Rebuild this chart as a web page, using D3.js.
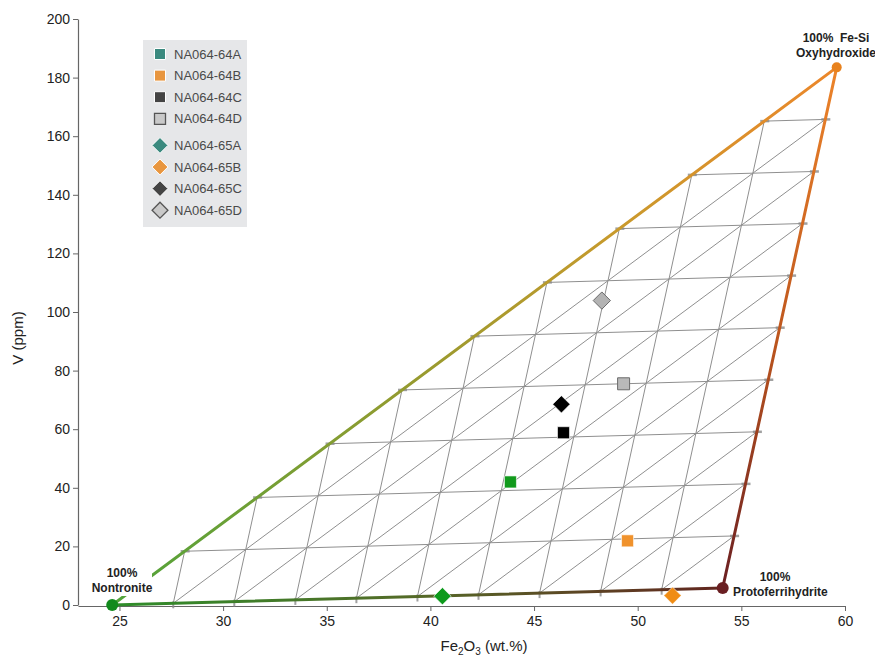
<!DOCTYPE html>
<html>
<head>
<meta charset="utf-8">
<script src="https://cdn.jsdelivr.net/npm/d3@7"></script>
<style>
  body { margin: 0; background: #fff; }
  svg { font-family: "Liberation Sans", Arial, sans-serif; }
</style>
</head>
<body>
<script>
  const w = 875;
  const h = 657;

  // axes
  const xTicks = [25, 30, 35, 40, 45, 50, 55, 60];
  const yTicks = [0, 20, 40, 60, 80, 100, 120, 140, 160, 180, 200];

  // end members: Nontronite, Protoferrihydrite, Fe-Si Oxyhydroxide
  const endNames = ['Nontronite', 'Protoferrihydrite', 'Fe-Si Oxyhydroxide'];
  const endFe = [24.65, 54.1, 59.6];
  const endV = [0, 5.8, 183.5];
  const endColors = ['#118a1c', '#6a1f22', '#e8821e'];

  // samples
  const sampleNames = ['NA064-64A', 'NA064-64B', 'NA064-64C', 'NA064-64D',
    'NA064-65A', 'NA064-65B', 'NA064-65C', 'NA064-65D'];
  const sampleFe = [43.86, 49.51, 46.42, 49.32, 40.58, 51.68, 46.32, 48.27];
  const sampleV = [42.0, 21.9, 58.8, 75.5, 3.0, 3.2, 68.5, 103.9];
  const sampleShape = ['square', 'square', 'square', 'square',
    'diamond', 'diamond', 'diamond', 'diamond'];
  const plotFill = ['#119a1c', '#f0922c', '#000000', '#b9b9b9',
    '#0d9a1c', '#f08c14', '#000000', '#b3b3b3'];
  const legendFill = ['#3b8a7f', '#e8963f', '#444444', '#c9c9c9',
    '#3b8a7f', '#e8963f', '#444444', '#c9c9c9'];

  const gridSteps = d3.range(1, 10).map(i => i / 10);

  const xScale = d3.scaleLinear().domain([23, 60]).range([78, 845]);
  const yScale = d3.scaleLinear().domain([0, 200]).range([605, 19]);

  const svg = d3.select('body').append('svg')
    .attr('width', w)
    .attr('height', h);

  const defs = svg.append('defs');

  const px = i => [xScale(endFe[i]), yScale(endV[i])];
  const mix = (a, b, t) => [a[0] + (b[0] - a[0]) * t, a[1] + (b[1] - a[1]) * t];
  const N = [endFe[0], endV[0]], P = [endFe[1], endV[1]], F = [endFe[2], endV[2]];

  // edge gradients
  function grad(id, i, j, stops) {
    const a = px(i), b = px(j);
    const g = defs.append('linearGradient')
      .attr('id', id)
      .attr('gradientUnits', 'userSpaceOnUse')
      .attr('x1', a[0]).attr('y1', a[1])
      .attr('x2', b[0]).attr('y2', b[1]);
    stops.forEach(s => g.append('stop').attr('offset', s[0]).attr('stop-color', s[1]));
  }
  grad('gNF', 0, 2, [[0, '#4fa33a'], [0.45, '#9c9a2e'], [0.7, '#c99a2c'], [1, '#ec862a']]);
  grad('gFP', 2, 1, [[0, '#ec842a'], [0.5, '#c0581e'], [1, '#6a1f22']]);
  grad('gNP', 0, 1, [[0, '#2e8d2a'], [0.5, '#556a28'], [1, '#62251f']]);

  // axes
  const xAxis = d3.axisBottom(xScale).tickValues(xTicks).tickSize(5).tickSizeOuter(0).tickPadding(5);
  const yAxis = d3.axisLeft(yScale).tickValues(yTicks).tickSize(5).tickSizeOuter(0).tickPadding(3);

  svg.append('g')
    .attr('class', 'x-axis')
    .attr('transform', `translate(0, ${yScale(0) + 1})`)
    .call(xAxis);

  svg.append('g')
    .attr('class', 'y-axis')
    .attr('transform', `translate(${xScale(23)}, 0)`)
    .call(yAxis);

  svg.selectAll('.domain').attr('stroke', '#666').attr('stroke-width', 1.2);
  svg.selectAll('.tick line').attr('stroke', '#666');
  svg.selectAll('.tick text').attr('font-size', 14).attr('fill', '#222')
    .attr('font-family', '"Liberation Sans", Arial, sans-serif');

  // axis titles
  const xt = svg.append('text')
    .attr('x', 484)
    .attr('y', 651)
    .attr('text-anchor', 'middle')
    .attr('font-size', 15)
    .attr('fill', '#222');
  xt.append('tspan').text('Fe');
  xt.append('tspan').text('2').attr('font-size', 10).attr('dy', 4);
  xt.append('tspan').text('O').attr('dy', -4);
  xt.append('tspan').text('3').attr('font-size', 10).attr('dy', 4);
  xt.append('tspan').text(' (wt.%)').attr('dy', -4);

  svg.append('text')
    .attr('text-anchor', 'middle')
    .attr('transform', `translate(23, 338) rotate(-90)`)
    .attr('font-size', 15)
    .attr('fill', '#222')
    .text('V (ppm)');

  // ternary grid
  const gridLines = [];
  gridSteps.forEach(f => {
    // constant Fe-Si fraction
    gridLines.push([mix(N, F, f), mix(P, F, f)]);
    // constant nontronite fraction
    gridLines.push([mix(P, N, f), mix(F, N, f)]);
    // constant protoferrihydrite fraction
    gridLines.push([mix(N, P, f), mix(F, P, f)]);
  });

  svg.append('g')
    .selectAll('line')
    .data(gridLines)
    .enter()
    .append('line')
    .attr('x1', d => xScale(d[0][0]))
    .attr('y1', d => yScale(d[0][1]))
    .attr('x2', d => xScale(d[1][0]))
    .attr('y2', d => yScale(d[1][1]))
    .attr('stroke', '#8f8f8f')
    .attr('stroke-width', 1);

  // small markers where grid meets the edges
  const sideMarks = [];
  const bottomMarks = [];
  gridSteps.forEach(f => {
    sideMarks.push(mix(N, F, f));
    sideMarks.push(mix(P, F, f));
    bottomMarks.push(mix(N, P, f));
  });

  svg.append('g')
    .selectAll('line')
    .data(sideMarks)
    .enter()
    .append('line')
    .attr('x1', d => xScale(d[0]) - 4)
    .attr('x2', d => xScale(d[0]) + 5)
    .attr('y1', d => yScale(d[1]))
    .attr('y2', d => yScale(d[1]))
    .attr('stroke', '#8a8a8a')
    .attr('stroke-width', 2.5)
    .attr('opacity', 0.8);

  svg.append('g')
    .selectAll('line')
    .data(bottomMarks)
    .enter()
    .append('line')
    .attr('x1', d => xScale(d[0]))
    .attr('x2', d => xScale(d[0]))
    .attr('y1', d => yScale(d[1]) - 2)
    .attr('y2', d => yScale(d[1]) + 5)
    .attr('stroke', '#8a8a8a')
    .attr('stroke-width', 2)
    .attr('opacity', 0.8);

  // triangle edges
  const edges = [[0, 2, 'gNF'], [2, 1, 'gFP'], [0, 1, 'gNP']];
  svg.append('g')
    .selectAll('line')
    .data(edges)
    .enter()
    .append('line')
    .attr('x1', d => px(d[0])[0])
    .attr('y1', d => px(d[0])[1])
    .attr('x2', d => px(d[1])[0])
    .attr('y2', d => px(d[1])[1])
    .attr('stroke', d => `url(#${d[2]})`)
    .attr('stroke-width', 3)
    .attr('stroke-linecap', 'round');

  // end member dots
  svg.append('g')
    .selectAll('circle')
    .data(endNames)
    .enter()
    .append('circle')
    .attr('cx', (d, i) => xScale(endFe[i]))
    .attr('cy', (d, i) => yScale(endV[i]))
    .attr('r', (d, i) => i === 2 ? 5 : 6)
    .attr('fill', (d, i) => endColors[i]);

  // end member labels
  function label(lines, y, bg) {
    const g = svg.append('g');
    if (bg) {
      g.append('rect')
        .attr('x', bg[0]).attr('y', bg[1])
        .attr('width', bg[2]).attr('height', bg[3])
        .attr('fill', '#fff');
    }
    lines.forEach((l, i) => {
      g.append('text')
        .attr('x', l[1])
        .attr('y', y + i * 15)
        .attr('text-anchor', l[2])
        .attr('font-size', 12)
        .attr('font-weight', 'bold')
        .attr('fill', '#222')
        .style('white-space', 'pre')
        .text(l[0]);
    });
  }
  label([['100%  Fe-Si', 836, 'middle'], ['Oxyhydroxide', 836, 'middle']], 42);
  label([['100%', 122, 'middle'], ['Nontronite', 122, 'middle']], 577, [89, 563, 63, 33]);
  label([['100%', 775, 'middle'], ['Protoferrihydrite', 733, 'start']], 581);

  // marker path generator
  function shapePath(shape, s) {
    if (shape === 'square') {
      return `M${-s / 2},${-s / 2}h${s}v${s}h${-s}Z`;
    }
    const r = s * 0.72;
    return `M0,${-r}L${r},0L0,${r}L${-r},0Z`;
  }

  const isGray = c => c === '#b9b9b9' || c === '#b3b3b3' || c === '#c9c9c9';

  // sample points
  svg.append('g')
    .selectAll('path')
    .data(sampleNames)
    .enter()
    .append('path')
    .attr('transform', (d, i) => `translate(${xScale(sampleFe[i])}, ${yScale(sampleV[i])})`)
    .attr('d', (d, i) => shapePath(sampleShape[i], 12))
    .attr('fill', (d, i) => plotFill[i])
    .attr('stroke', (d, i) => isGray(plotFill[i]) ? '#6a6a6a' : '#fff')
    .attr('stroke-width', (d, i) => isGray(plotFill[i]) ? 1 : 0.6);

  // legend
  const legend = svg.append('g');
  legend.append('rect')
    .attr('x', 143)
    .attr('y', 40)
    .attr('width', 104)
    .attr('height', 187)
    .attr('fill', '#e6e7e9');

  const rowY = i => 54 + i * 21.6 + (i >= 4 ? 5 : 0);

  const items = legend.selectAll('g.item')
    .data(sampleNames)
    .enter()
    .append('g')
    .attr('class', 'item')
    .attr('transform', (d, i) => `translate(0, ${rowY(i)})`);

  items.append('path')
    .attr('transform', 'translate(160, 0)')
    .attr('d', (d, i) => shapePath(sampleShape[i], 11))
    .attr('fill', (d, i) => legendFill[i])
    .attr('stroke', (d, i) => isGray(legendFill[i]) ? '#555' : '#fff')
    .attr('stroke-width', (d, i) => isGray(legendFill[i]) ? 1.3 : 1);

  items.append('text')
    .attr('x', 174)
    .attr('y', 0)
    .attr('dy', '0.36em')
    .attr('font-size', 13)
    .attr('fill', '#4a4a4a')
    .text(d => d);
</script>
</body>
</html>
